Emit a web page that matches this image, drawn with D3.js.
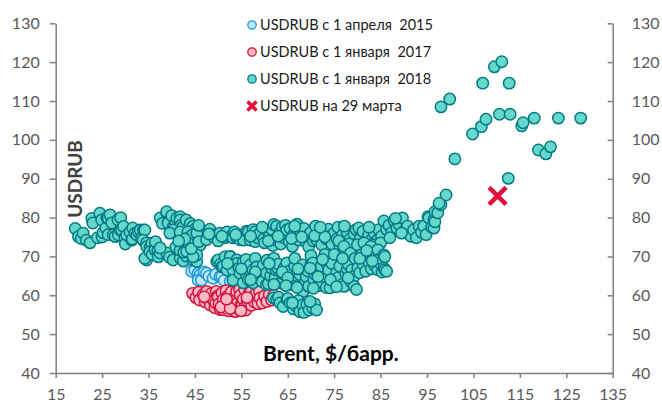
<!DOCTYPE html>
<html>
<head>
<meta charset="utf-8">
<script src="https://cdn.jsdelivr.net/npm/d3@7"></script>
<style>
  body { margin: 0; background: #fff; }
  svg { font-family: Lato, "Open Sans", sans-serif; }
</style>
</head>
<body>
<div id="grafico"></div>
<script>
// Brent ($/барр.) vs USDRUB, точки [brent, usdrub]
const xTicks = [15, 25, 35, 45, 55, 65, 75, 85, 95, 105, 115, 125, 135];
const yTicks = [40, 50, 60, 70, 80, 90, 100, 110, 120, 130];

const legendLabels = [
    "USDRUB с 1 апреля  2015",
    "USDRUB с 1 января  2017",
    "USDRUB с 1 января  2018",
    "USDRUB на 29 марта"
];

const from2015 = [
    [44.3, 66.2], [45.0, 66.5], [45.7, 65.7], [46.1, 65.3], [45.7, 63.9], [46.4, 63.9],
    [47.0, 66.0], [47.5, 65.7], [48.0, 64.9], [48.9, 64.4], [49.5, 65.4], [50.4, 64.8],
    [50.8, 64.9], [51.3, 63.8], [52.6, 63.6], [53.8, 63.9], [55.0, 63.4]
];

const from2017 = [
    [44.5, 60.5], [45.2, 59.4], [45.8, 60.8], [46.3, 59.0], [46.0, 58.8], [46.8, 60.2],
    [47.2, 58.3], [47.5, 61.0], [47.9, 59.5], [48.0, 58.8], [48.3, 57.5], [48.6, 60.5],
    [49.0, 58.6], [49.3, 56.8], [49.5, 58.0], [49.6, 61.0], [49.9, 59.8], [50.0, 59.5],
    [50.2, 57.8], [50.5, 56.3], [50.8, 60.6], [51.0, 56.3], [51.1, 58.9], [51.4, 57.2],
    [51.7, 61.2], [52.0, 59.7], [52.0, 57.8], [52.3, 56.0], [52.5, 58.2], [52.8, 60.8],
    [53.0, 58.5], [53.1, 57.1], [53.4, 59.2], [53.5, 56.7], [53.7, 55.8], [54.0, 61.0],
    [54.2, 58.0], [54.5, 56.4], [54.6, 61.4], [54.8, 60.0], [55.0, 57.8], [55.1, 57.3],
    [55.4, 59.0], [55.7, 61.5], [55.8, 57.0], [56.0, 56.2], [56.3, 58.5], [56.6, 60.3],
    [56.9, 61.8], [57.0, 60.8], [57.2, 57.4], [57.5, 59.6], [57.8, 58.3], [58.2, 60.5],
    [58.6, 57.8], [58.9, 61.0], [59.0, 59.3], [59.5, 58.0], [60.0, 59.8], [60.5, 58.4],
    [61.0, 60.2], [61.5, 58.8], [62.0, 60.0], [62.6, 59.0], [50.6, 57.0], [52.6, 56.6],
    [54.9, 56.0], [51.8, 59.0], [47.0, 59.6], [56.2, 59.4]
];

const from2018 = [
    // 2020, левая группа
    [19.2, 77.2], [19.9, 75.1], [20.5, 74.6], [20.9, 76.0], [21.6, 74.2], [22.4, 73.5],
    [22.8, 79.8], [23.0, 78.6], [24.0, 74.8], [24.5, 81.1], [24.9, 79.4], [25.0, 75.0],
    [25.2, 76.1], [25.8, 77.3], [26.0, 80.0], [26.3, 79.8], [26.3, 75.6], [26.7, 80.7],
    [27.1, 78.6], [27.4, 75.5], [27.8, 75.1], [28.4, 79.4], [28.5, 75.5], [28.9, 76.8],
    [29.0, 80.0], [29.2, 76.8], [29.6, 77.7], [29.9, 74.7], [30.0, 73.2], [30.3, 75.5],
    [31.0, 76.3], [31.4, 74.2], [31.5, 74.5], [31.6, 77.3], [32.1, 76.0], [32.5, 75.5],
    [32.8, 76.4], [33.2, 76.8], [33.5, 74.7], [33.9, 76.8], [34.2, 76.8], [33.8, 74.2],
    [34.6, 73.5], [34.6, 72.5], [35.3, 72.2], [35.7, 73.4], [34.6, 69.1], [34.2, 69.5],
    [35.3, 71.2], [35.8, 70.5], [36.4, 72.2], [36.4, 71.7], [36.5, 73.8], [37.0, 71.5],
    [37.1, 69.9], [37.5, 70.9], [38.9, 70.9], [39.5, 69.8], [40.3, 69.1], [41.8, 69.6],
    [42.5, 68.8], [43.1, 70.1], [44.6, 69.1], [45.4, 68.7],
    // верхняя полоса
    [37.5, 79.9], [38.0, 78.5], [38.9, 81.2], [38.9, 81.5], [39.6, 79.4], [39.2, 78.6],
    [40.0, 80.5], [40.3, 77.6], [40.9, 78.6], [41.1, 79.9], [41.8, 80.2], [41.8, 79.4],
    [42.0, 78.0], [42.4, 76.8], [42.4, 77.6], [43.1, 79.4], [43.9, 76.0], [44.0, 78.5],
    [44.6, 77.8], [43.9, 74.2], [43.3, 72.9], [44.6, 73.5], [45.2, 74.8], [45.0, 77.0],
    [46.1, 76.8], [46.7, 75.5], [47.6, 76.3], [40.3, 76.8], [39.6, 76.0], [41.8, 76.3],
    [43.5, 76.3], [43.9, 75.0], [44.5, 75.6], [45.4, 76.0], [40.9, 72.4], [41.8, 71.6],
    [42.6, 71.1], [43.9, 71.6], [45.0, 71.6], [46.1, 72.9], [45.4, 70.4], [37.5, 72.2],
    [43.2, 71.3], [43.5, 73.5], [44.6, 69.9], [42.8, 74.5], [41.5, 74.0], [44.2, 72.0],
    [45.8, 73.8], [47.5, 74.3], [48.2, 77.0], [48.9, 75.5], [49.0, 75.0], [50.0, 74.0],
    [50.4, 76.0], [51.5, 74.8], [51.9, 76.3], [52.6, 75.0], [53.2, 74.8], [53.5, 76.3],
    [54.0, 74.8], [54.7, 74.3], [55.4, 75.5], [55.4, 74.2], [56.1, 76.5], [56.5, 76.3],
    [56.9, 74.2], [57.5, 76.9], [57.9, 76.3], [58.0, 73.8], [58.5, 74.8], [59.0, 76.0],
    [59.8, 74.5], [60.0, 73.5], [60.4, 76.8], [61.0, 75.2], [61.5, 77.0], [61.8, 72.8],
    [62.0, 78.2], [62.2, 74.3], [62.6, 77.8], [63.2, 76.0], [63.5, 73.2], [63.8, 77.6],
    [64.2, 74.8], [64.5, 78.0], [64.8, 76.8], [65.3, 73.8], [65.5, 77.2], [66.0, 72.6],
    [66.2, 75.5], [66.9, 76.9], [67.0, 78.3], [67.4, 74.2], [67.8, 76.0], [68.5, 77.2],
    [68.9, 73.8], [69.4, 75.5], [69.5, 72.5], [70.0, 76.2], [70.5, 74.0], [71.0, 77.8],
    [71.2, 74.3], [71.8, 75.8], [72.3, 73.0], [72.7, 76.0], [73.3, 74.5], [73.8, 77.0],
    [74.0, 75.2], [74.5, 73.2], [75.0, 76.0], [75.6, 74.5], [75.8, 77.5], [76.2, 72.8],
    [76.8, 75.5], [77.0, 71.8], [77.3, 73.8], [77.8, 76.2], [78.4, 74.5], [78.8, 72.6],
    [79.3, 75.8], [79.7, 76.9], [79.8, 71.9], [80.3, 77.3], [80.6, 74.5], [81.2, 76.4],
    [81.8, 73.6], [82.4, 75.5], [83.0, 74.2], [83.6, 76.0], [84.4, 74.3], [84.6, 76.9],
    [85.2, 75.2], [85.7, 79.1], [86.3, 76.9], [86.8, 78.0], [87.4, 76.2], [87.9, 79.1],
    [88.5, 77.3], [89.0, 78.2], [89.7, 79.9], [90.3, 77.0], [90.8, 77.8], [91.5, 75.2],
    [92.1, 76.8], [92.7, 74.8], [93.3, 77.8], [93.8, 76.2], [94.3, 77.8], [94.8, 75.6],
    [95.2, 80.2], [95.4, 79.9], [96.0, 77.5], [96.5, 77.3], [96.5, 79.5], [96.7, 78.9],
    [96.7, 81.5], [97.3, 81.2], [97.8, 83.5], [98.0, 83.3], [99.1, 85.8],
    [48.0, 75.8], [50.8, 75.2], [53.8, 75.6], [57.0, 75.2], [60.8, 74.0], [62.9, 75.2],
    [65.8, 74.6], [68.0, 75.0], [70.8, 75.3], [73.0, 75.0], [76.0, 74.0], [78.2, 73.2],
    [80.8, 72.8], [83.2, 73.0], [85.0, 73.5], [87.0, 74.8], [89.5, 76.0], [45.8, 78.0],
    [59.5, 77.5], [66.5, 77.8], [72.0, 77.5], [77.2, 77.8], [82.5, 77.5], [88.2, 79.8],
    // средняя полоса
    [49.7, 68.7], [50.0, 69.1], [50.5, 68.0], [50.8, 67.3], [51.1, 67.5], [51.5, 69.9],
    [51.9, 66.5], [52.6, 70.0], [52.6, 69.9], [53.2, 66.5], [53.2, 63.9], [54.0, 69.1],
    [54.0, 68.2], [54.5, 67.0], [54.7, 65.7], [55.4, 68.6], [55.4, 63.2], [56.0, 69.2],
    [56.1, 65.2], [56.5, 64.0], [56.9, 67.8], [57.5, 66.5], [57.5, 63.2], [58.0, 69.5],
    [58.3, 67.3], [58.5, 64.5], [59.0, 65.2], [59.5, 63.5], [59.7, 67.8], [60.4, 65.7],
    [60.4, 62.7], [60.5, 69.0], [60.8, 63.0], [61.3, 65.0], [61.5, 67.0], [62.0, 69.5],
    [62.2, 64.3], [62.5, 66.5], [62.8, 67.0], [63.0, 68.0], [63.4, 63.2], [63.6, 63.2],
    [64.0, 65.5], [64.2, 67.0], [64.8, 68.3], [65.3, 66.2], [65.8, 63.8], [66.1, 62.7],
    [66.5, 67.5], [66.5, 69.5], [66.8, 64.2], [67.0, 65.0], [67.6, 65.3], [68.2, 67.8],
    [68.3, 61.0], [68.8, 63.5], [69.0, 64.8], [69.4, 66.2], [69.5, 62.3], [70.0, 68.0],
    [70.0, 70.2], [70.4, 68.3], [70.6, 64.0], [70.8, 65.5], [71.2, 66.0], [71.7, 62.5],
    [71.9, 63.5], [72.2, 67.5], [72.8, 64.8], [73.0, 70.5], [73.3, 62.0], [73.5, 67.8],
    [73.8, 66.5], [74.1, 61.9], [74.5, 68.2], [75.0, 63.5], [75.0, 70.5], [75.5, 65.8],
    [75.8, 64.5], [76.2, 67.5], [76.8, 62.8], [77.1, 62.3], [77.1, 72.6], [77.5, 65.5],
    [77.8, 66.8], [78.0, 68.0], [78.5, 70.8], [78.6, 63.5], [78.8, 66.5], [79.3, 64.9],
    [79.3, 62.3], [79.5, 69.5], [79.8, 61.5], [80.0, 73.0], [80.1, 67.0], [80.5, 65.8],
    [81.0, 70.5], [81.2, 68.0], [81.4, 73.5], [81.8, 66.2], [82.5, 68.5], [82.9, 72.6],
    [83.0, 66.8], [83.5, 70.2], [83.6, 67.8], [84.4, 66.6], [84.4, 71.7], [84.5, 68.8],
    [84.8, 68.3], [85.0, 69.5], [85.3, 66.0], [85.7, 67.0], [85.7, 70.4], [85.9, 69.9],
    [85.9, 66.5], [86.3, 66.2],
    [52.0, 68.2], [55.0, 66.8], [58.0, 66.0], [61.0, 68.2], [63.8, 66.0], [65.0, 64.5],
    [67.2, 66.8], [69.8, 67.0], [71.5, 64.8], [72.5, 69.2], [74.2, 64.0], [76.8, 69.5],
    [78.0, 64.5], [57.0, 64.0], [62.0, 62.8], [64.6, 62.5], [67.0, 62.0], [70.5, 61.8],
    [75.5, 62.2], [80.5, 69.5], [82.0, 71.5], [83.2, 68.8],
    // нижняя группа
    [61.9, 59.3], [62.6, 58.9], [63.0, 59.5], [63.3, 58.0], [64.0, 57.1], [64.8, 58.9],
    [65.0, 59.2], [65.5, 58.0], [66.2, 56.5], [66.9, 57.1], [67.3, 58.6], [67.6, 55.8],
    [68.2, 57.5], [68.5, 55.6], [69.1, 57.6], [69.6, 56.2], [70.4, 56.7], [70.8, 57.8],
    [71.2, 56.2], [66.0, 58.0], [69.8, 58.4],
    // 2022
    [97.6, 83.7], [98.0, 108.5], [99.9, 110.5], [101.0, 95.1], [104.8, 101.5], [106.7, 103.4],
    [107.7, 105.3], [107.0, 114.6], [109.5, 118.8], [111.1, 120.1], [110.6, 106.6],
    [112.7, 114.6], [112.9, 106.6], [112.5, 90.1], [115.4, 103.6], [115.7, 104.4],
    [118.1, 105.6], [123.3, 105.6], [128.1, 105.6], [119.0, 97.4], [120.6, 96.4], [121.6, 98.2]
];

const march29 = [[110.2, 85.6]];

const width = 662;
const height = 406;
const margin = { top: 23.3, left: 55.7, bottom: 33, right: 49.3 };

const svg = d3.select("#grafico")
              .append("svg")
              .attr("width", width)
              .attr("height", height);

const xScale = d3.scaleLinear()
                 .domain([15, 135])
                 .range([margin.left, width - margin.right]);

const yScale = d3.scaleLinear()
                 .domain([40, 130])
                 .range([height - margin.bottom, margin.top]);

const axisColor = "#7f7f7f";
const textColor = "#595959";

function styleAxis(g) {
    g.select(".domain").attr("stroke", axisColor).attr("stroke-width", 1.5);
    g.selectAll(".tick line").attr("stroke", axisColor).attr("stroke-width", 1.5);
    g.selectAll(".tick text")
     .attr("fill", textColor)
     .attr("font-size", "16px")
     .attr("font-family", "Lato, sans-serif");
}

svg.append("g")
   .attr("transform", `translate(${margin.left}, 0)`)
   .call(d3.axisLeft(yScale).tickValues(yTicks).tickSizeInner(6).tickSizeOuter(0).tickPadding(10))
   .call(styleAxis);

svg.append("g")
   .attr("transform", `translate(${width - margin.right}, 0)`)
   .call(d3.axisRight(yScale).tickValues(yTicks).tickSizeInner(-5).tickSizeOuter(0).tickPadding(19))
   .call(styleAxis);

svg.append("g")
   .attr("transform", `translate(0, ${height - margin.bottom})`)
   .call(d3.axisBottom(xScale).tickValues(xTicks).tickSizeInner(5).tickSizeOuter(0).tickPadding(11))
   .call(styleAxis);

const seriesStyle = [
    { data: from2015, fill: "#bfe9fb", stroke: "#1c9ad6" },
    { data: from2017, fill: "#ffb8c6", stroke: "#d2143c" },
    { data: from2018, fill: "#66d8cb", stroke: "#007a85" }
];

seriesStyle.forEach(s => {
    svg.append("g")
       .selectAll("circle")
       .data(s.data)
       .join("circle")
       .attr("cx", d => xScale(d[0]))
       .attr("cy", d => yScale(d[1]))
       .attr("r", 5.7)
       .attr("fill", s.fill)
       .attr("stroke", s.stroke)
       .attr("stroke-width", 1.5);
});

const crossColor = "#e2103c";

function cross(g, size, sw) {
    g.append("path")
     .attr("d", `M${-size},${-size}L${size},${size}M${-size},${size}L${size},${-size}`)
     .attr("stroke", crossColor)
     .attr("stroke-width", sw)
     .attr("fill", "none");
}

svg.append("g")
   .selectAll("g")
   .data(march29)
   .join("g")
   .attr("transform", d => `translate(${xScale(d[0])}, ${yScale(d[1])})`)
   .each(function() { cross(d3.select(this), 8.5, 4.5); });

// легенда
const legend = svg.append("g");
const legendY = [25, 52, 79, 106];

legendLabels.forEach((label, i) => {
    const row = legend.append("g").attr("transform", `translate(252, ${legendY[i]})`);
    if (i < 3) {
        row.append("circle")
           .attr("r", 4.2)
           .attr("fill", seriesStyle[i].fill)
           .attr("stroke", seriesStyle[i].stroke)
           .attr("stroke-width", 1.3);
    } else {
        cross(row, 4.5, 3.5);
    }
    row.append("text")
       .attr("x", 8)
       .attr("dy", "0.35em")
       .attr("font-size", "14.5px")
       .attr("fill", "#1a1a1a")
       .style("white-space", "pre")
       .text(label);
});

svg.append("text")
   .attr("transform", "translate(82, 179) rotate(-90)")
   .attr("text-anchor", "middle")
   .attr("font-size", "19px")
   .attr("font-weight", "bold")
   .attr("fill", "#404040")
   .text("USDRUB");

svg.append("text")
   .attr("x", 263)
   .attr("y", 361)
   .attr("font-size", "21px")
   .attr("font-weight", "bold")
   .attr("fill", "#000")
   .text("Brent, $/барр.");
</script>
</body>
</html>
